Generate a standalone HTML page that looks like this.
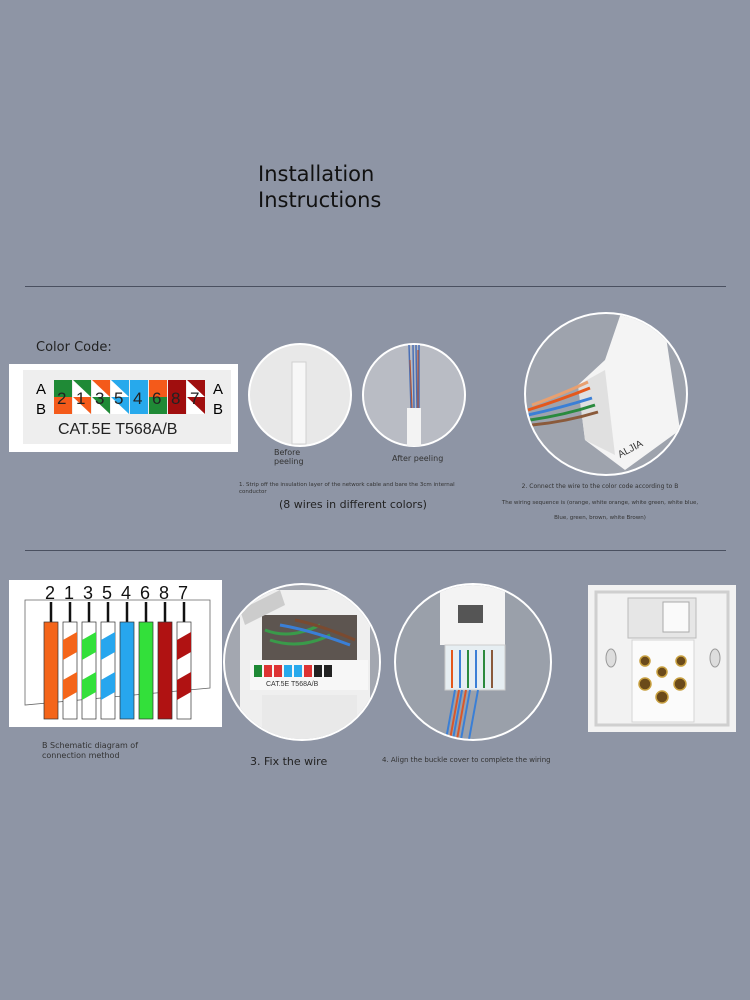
<!DOCTYPE html>
<html><head><meta charset="utf-8"><style>
body{margin:0;width:750px;height:1000px;background:#8e95a5;position:relative;overflow:hidden;font-family:"DejaVu Sans","Liberation Sans",sans-serif;color:#1c1f26}
.a{position:absolute}
.hr{position:absolute;left:25px;width:701px;height:1px;background:#4a5060}
</style></head><body>
<div class="a" style="left:258px;top:161px;font-size:21px;line-height:26px;color:#111">Installation<br>Instructions</div>
<div class="hr" style="top:286px"></div>
<div class="hr" style="top:550px"></div>
<div class="a" style="left:36px;top:340px;font-size:13px;color:#222">Color Code:</div>

<svg class="a" style="left:0;top:0" width="750" height="1000">
<defs>
<clipPath id="c1"><circle cx="302" cy="662" r="77"/></clipPath>
<clipPath id="c2"><circle cx="473" cy="662" r="77"/></clipPath>
<clipPath id="c3"><circle cx="606" cy="394" r="80"/></clipPath>
</defs>
<!-- color code box -->
<rect x="9" y="364" width="229" height="88" fill="#fff"/>
<rect x="23" y="370" width="208" height="74" fill="#eeeeee"/>
<g font-family="Liberation Sans" font-size="15">
<text x="36" y="394">A</text><text x="36" y="414">B</text>
<text x="213" y="394">A</text><text x="213" y="414">B</text>
</g>
<g>
<rect x="54" y="380" width="18" height="17" fill="#1f8a36"/><rect x="54" y="397" width="18" height="17" fill="#f45a1a"/>
<rect x="73" y="380" width="18" height="17" fill="#1f8a36"/><polygon points="73,380 91,397 73,397" fill="#fff"/><rect x="73" y="397" width="18" height="17" fill="#f45a1a"/><polygon points="73,397 91,414 73,414" fill="#fff"/>
<rect x="92" y="380" width="18" height="17" fill="#f45a1a"/><polygon points="92,380 110,397 92,397" fill="#fff"/><rect x="92" y="397" width="18" height="17" fill="#1f8a36"/><polygon points="92,397 110,414 92,414" fill="#fff"/>
<rect x="111" y="380" width="18" height="34" fill="#27a9ec"/><polygon points="111,380 129,397 111,397" fill="#fff"/><polygon points="111,397 129,414 111,414" fill="#fff"/>
<rect x="130" y="380" width="18" height="34" fill="#27a9ec"/>
<rect x="149" y="380" width="18" height="17" fill="#f45a1a"/><rect x="149" y="397" width="18" height="17" fill="#1f8a36"/>
<rect x="168" y="380" width="18" height="34" fill="#a00e0e"/>
<rect x="187" y="380" width="18" height="34" fill="#a00e0e"/><polygon points="187,380 205,397 187,397" fill="#fff"/><polygon points="187,397 205,414 187,414" fill="#fff"/>
</g>
<g font-family="Liberation Sans" font-size="17" fill="#222">
<text x="57" y="404">2</text><text x="76" y="404">1</text><text x="95" y="404">3</text><text x="114" y="404">5</text><text x="133" y="404">4</text><text x="152" y="404">6</text><text x="171" y="404">8</text><text x="190" y="404">7</text>
</g>
<text x="58" y="434" font-family="Liberation Sans" font-size="16" fill="#222">CAT.5E  T568A/B</text>

<!-- before peeling -->
<circle cx="300" cy="395" r="51" fill="#e8e8e8" stroke="#fff" stroke-width="2"/>
<rect x="292" y="362" width="14" height="82" fill="#f7f7f7" stroke="#d0d0d0" stroke-width="1"/>
<!-- after peeling -->
<circle cx="414" cy="395" r="51" fill="#b9bcc4" stroke="#fff" stroke-width="2"/>
<rect x="407" y="408" width="14" height="38" fill="#f3f3f3"/>
<path d="M409 345 L411 408 M413 345 L414 408 M416 345 L417 408 M419 345 L419 408" stroke="#4a6fb5" stroke-width="1.5"/>
<path d="M410 360 L412 408 M418 350 L418 408" stroke="#b0573b" stroke-width="1.2"/>
<!-- big circle -->
<circle cx="606" cy="394" r="81" fill="#9ea3ad" stroke="#fff" stroke-width="2"/>
<g clip-path="url(#c3)">
<polygon points="622,310 665,330 680,430 625,470 585,440 578,385 605,360" fill="#f4f4f4"/>
<polygon points="578,385 605,370 615,455 585,440" fill="#e0e0e0"/>
<g stroke-width="3" fill="none">
<path d="M528 410 Q560 400 590 388" stroke="#e4581c"/>
<path d="M528 415 Q560 408 592 398" stroke="#3a7fd6"/>
<path d="M530 420 Q565 415 595 405" stroke="#2a8a3e"/>
<path d="M532 425 Q565 422 598 412" stroke="#8a5a3b"/>
<path d="M532 405 Q560 395 588 382" stroke="#e8a070"/>
</g>
</g>
<text x="620" y="458" font-family="Liberation Sans" font-size="10" fill="#333" transform="rotate(-28 620 458)">ALJIA</text>

<!-- wiring diagram -->
<rect x="9" y="580" width="213" height="147" fill="#fff"/>
<polygon points="25,600 210,600 210,688 25,705" fill="none" stroke="#666" stroke-width="0.8"/>
<g font-family="Liberation Sans" font-size="18" fill="#111">
<text x="45" y="599">2</text><text x="64" y="599">1</text><text x="83" y="599">3</text><text x="102" y="599">5</text><text x="121" y="599">4</text><text x="140" y="599">6</text><text x="159" y="599">8</text><text x="178" y="599">7</text>
</g>
<g stroke="#111" stroke-width="2.5">
<line x1="51" y1="602" x2="51" y2="622"/><line x1="70" y1="602" x2="70" y2="622"/><line x1="89" y1="602" x2="89" y2="622"/><line x1="108" y1="602" x2="108" y2="622"/><line x1="127" y1="602" x2="127" y2="622"/><line x1="146" y1="602" x2="146" y2="622"/><line x1="165" y1="602" x2="165" y2="622"/><line x1="184" y1="602" x2="184" y2="622"/>
</g>
<g stroke="#333" stroke-width="0.7">
<rect x="44" y="622" width="14" height="97" fill="#f4651a"/>
<rect x="63" y="622" width="14" height="97" fill="#fff"/>
<rect x="82" y="622" width="14" height="97" fill="#fff"/>
<rect x="101" y="622" width="14" height="97" fill="#fff"/>
<rect x="120" y="622" width="14" height="97" fill="#27a6ee"/>
<rect x="139" y="622" width="14" height="97" fill="#33e03a"/>
<rect x="158" y="622" width="14" height="97" fill="#b01212"/>
<rect x="177" y="622" width="14" height="97" fill="#fff"/>
</g>
<g>
<polygon points="63,640 77,632 77,652 63,660" fill="#f4651a"/><polygon points="63,680 77,672 77,692 63,700" fill="#f4651a"/>
<polygon points="82,640 96,632 96,652 82,660" fill="#33e03a"/><polygon points="82,680 96,672 96,692 82,700" fill="#33e03a"/>
<polygon points="101,640 115,632 115,652 101,660" fill="#27a6ee"/><polygon points="101,680 115,672 115,692 101,700" fill="#27a6ee"/>
<polygon points="177,640 191,632 191,652 177,660" fill="#b01212"/><polygon points="177,680 191,672 191,692 177,700" fill="#b01212"/>
</g>

<!-- fix wire circle -->
<circle cx="302" cy="662" r="78" fill="#a3a7b0" stroke="#fff" stroke-width="2"/>
<g clip-path="url(#c1)">
<rect x="240" y="590" width="135" height="150" fill="#efefef"/>
<rect x="262" y="615" width="95" height="45" fill="#5d5550"/>
<path d="M265 630 Q290 640 320 625 M270 640 Q300 650 330 635" stroke="#3a9a4a" stroke-width="3" fill="none"/>
<path d="M280 625 Q310 630 350 645" stroke="#3a7fd6" stroke-width="3" fill="none"/>
<path d="M295 620 Q320 625 355 640" stroke="#7a4a30" stroke-width="3" fill="none"/>
<path d="M240 610 L280 590 L285 605 L245 625 Z" fill="#ccc"/>
<rect x="250" y="660" width="118" height="30" fill="#f7f7f7"/>
<g><rect x="254" y="665" width="8" height="12" fill="#1f8a36"/><rect x="264" y="665" width="8" height="12" fill="#d33"/><rect x="274" y="665" width="8" height="12" fill="#d33"/><rect x="284" y="665" width="8" height="12" fill="#27a9ec"/><rect x="294" y="665" width="8" height="12" fill="#27a9ec"/><rect x="304" y="665" width="8" height="12" fill="#d33"/><rect x="314" y="665" width="8" height="12" fill="#222"/><rect x="324" y="665" width="8" height="12" fill="#222"/></g>
<text x="266" y="686" font-family="Liberation Sans" font-size="7" fill="#333">CAT.5E   T568A/B</text>
<rect x="262" y="695" width="95" height="50" fill="#e9e9e9"/>
<rect x="370" y="590" width="15" height="150" fill="#a3a7b0"/>
</g>

<!-- buckle circle -->
<circle cx="473" cy="662" r="78" fill="#9aa0aa" stroke="#fff" stroke-width="2"/>
<g clip-path="url(#c2)">
<rect x="440" y="580" width="65" height="65" fill="#f3f3f3"/>
<rect x="458" y="605" width="25" height="18" fill="#555"/>
<rect x="445" y="645" width="60" height="45" fill="#e6eef2" stroke="#ccc"/>
<g stroke-width="2"><line x1="452" y1="650" x2="452" y2="688" stroke="#e4581c"/><line x1="460" y1="650" x2="460" y2="688" stroke="#3a7fd6"/><line x1="468" y1="650" x2="468" y2="688" stroke="#2a8a3e"/><line x1="476" y1="650" x2="476" y2="688" stroke="#3a7fd6"/><line x1="484" y1="650" x2="484" y2="688" stroke="#2a8a3e"/><line x1="492" y1="650" x2="492" y2="688" stroke="#8a5a3b"/></g>
<path d="M445 745 L455 690 M452 745 L462 690 M460 745 L470 690 M468 745 L478 690" stroke="#3a7fd6" stroke-width="2"/>
<path d="M449 745 L459 690 M456 745 L466 690" stroke="#d9572a" stroke-width="2"/>
</g>

<!-- panel -->
<rect x="588" y="585" width="148" height="147" fill="#f2f2f2"/>
<rect x="596" y="592" width="132" height="133" fill="none" stroke="#cfcfcf" stroke-width="3"/>
<rect x="628" y="598" width="68" height="40" fill="#e6e6e6" stroke="#bbb"/>
<rect x="663" y="602" width="26" height="30" fill="#fafafa" stroke="#aaa"/>
<rect x="632" y="640" width="62" height="82" fill="#fbfbfb" stroke="#d5d5d5"/>
<ellipse cx="611" cy="658" rx="5" ry="9" fill="#ddd" stroke="#999"/>
<ellipse cx="715" cy="658" rx="5" ry="9" fill="#ddd" stroke="#999"/>
<g fill="#6b4a1a" stroke="#c8a040" stroke-width="1.5">
<circle cx="645" cy="661" r="5"/><circle cx="681" cy="661" r="5"/><circle cx="662" cy="672" r="5"/><circle cx="645" cy="684" r="6"/><circle cx="680" cy="684" r="6"/><circle cx="662" cy="697" r="6"/>
</g>
</svg>

<div class="a" style="left:274px;top:448px;font-size:8px;line-height:9px;color:#333">Before<br>peeling</div>
<div class="a" style="left:392px;top:454px;font-size:8px;color:#333">After peeling</div>
<div class="a" style="left:239px;top:482px;width:230px;font-size:5.5px;line-height:7px;color:#333">1. Strip off the insulation layer of the network cable and bare the 3cm internal conductor</div>
<div class="a" style="left:279px;top:498px;font-size:11px;color:#222">(8 wires in different colors)</div>
<div class="a" style="left:480px;top:483px;width:240px;text-align:center;font-size:6px;color:#333">2. Connect the wire to the color code according to B</div>
<div class="a" style="left:480px;top:500px;width:240px;text-align:center;font-size:5.5px;color:#333">The wiring sequence is (orange, white orange, white green, white blue,</div>
<div class="a" style="left:480px;top:515px;width:240px;text-align:center;font-size:5.5px;color:#333">Blue, green, brown, white Brown)</div>
<div class="a" style="left:42px;top:741px;font-size:8px;line-height:10px;color:#333">B Schematic diagram of<br>connection method</div>
<div class="a" style="left:250px;top:755px;font-size:11px;color:#222">3. Fix the wire</div>
<div class="a" style="left:382px;top:756px;font-size:7px;color:#333">4. Align the buckle cover to complete the wiring</div>
</body></html>
